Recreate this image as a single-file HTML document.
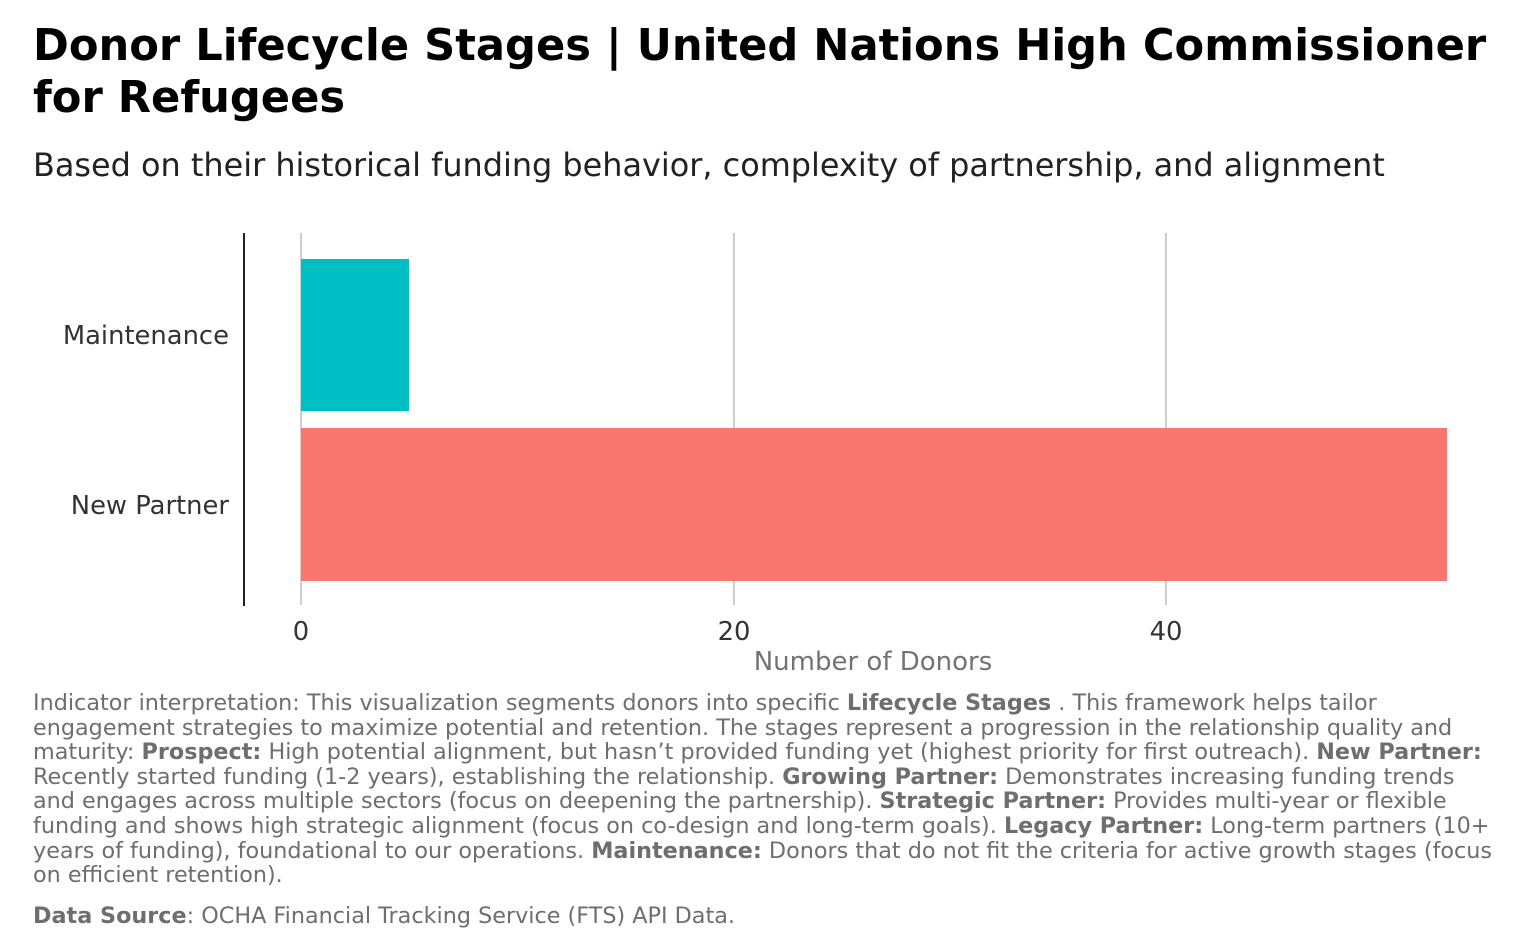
<!DOCTYPE html>
<html><head><meta charset="utf-8"><style>
body{margin:0;width:1536px;height:949px;background:#fff;font-family:"DejaVu Sans","Liberation Sans",sans-serif;position:relative;overflow:hidden}
.a{position:absolute;white-space:nowrap}
.t{left:33px;font-weight:bold;font-size:43.2px;color:#000}
.cap{left:33px;font-size:22.3px;color:#6e6e6e;line-height:24.6px}
.cap b{font-weight:bold}
</style></head><body>
<div class="a t" style="top:21px">Donor Lifecycle Stages | United Nations High Commissioner</div>
<div class="a t" style="top:73px">for Refugees</div>
<div class="a" style="left:33px;top:146px;font-size:31.9px;color:#222">Based on their historical funding behavior, complexity of partnership, and alignment</div>
<svg class="a" style="left:0;top:0" width="1536" height="700">
<line x1="301" y1="233" x2="301" y2="605" stroke="#bdbdbd" stroke-width="1.5"/>
<line x1="734" y1="233" x2="734" y2="605" stroke="#bdbdbd" stroke-width="1.5"/>
<line x1="1166" y1="233" x2="1166" y2="605" stroke="#bdbdbd" stroke-width="1.5"/>
<rect x="301" y="259" width="108" height="152" fill="#00BFC4"/>
<rect x="301" y="428" width="1146" height="153" fill="#F8766D"/>
<line x1="244" y1="233" x2="244" y2="606" stroke="#222" stroke-width="2"/>
<g font-family="DejaVu Sans,Liberation Sans,sans-serif" font-size="25.8" fill="#333">
<text x="229" y="344" text-anchor="end">Maintenance</text>
<text x="229" y="514" text-anchor="end">New Partner</text>
<text x="301" y="640" text-anchor="middle">0</text>
<text x="734" y="640" text-anchor="middle">20</text>
<text x="1166" y="640" text-anchor="middle">40</text>
</g>
<text x="873" y="670" text-anchor="middle" font-family="DejaVu Sans,Liberation Sans,sans-serif" font-size="26" fill="#737373">Number of Donors</text>
</svg>
<div class="a cap" style="top:691px">Indicator interpretation: This visualization segments donors into specific <b>Lifecycle Stages</b> . This framework helps tailor<br>engagement strategies to maximize potential and retention. The stages represent a progression in the relationship quality and<br>maturity: <b>Prospect:</b> High potential alignment, but hasn’t provided funding yet (highest priority for first outreach). <b>New Partner:</b><br>Recently started funding (1-2 years), establishing the relationship. <b>Growing Partner:</b> Demonstrates increasing funding trends<br>and engages across multiple sectors (focus on deepening the partnership). <b>Strategic Partner:</b> Provides multi-year or flexible<br>funding and shows high strategic alignment (focus on co-design and long-term goals). <b>Legacy Partner:</b> Long-term partners (10+<br>years of funding), foundational to our operations. <b>Maintenance:</b> Donors that do not fit the criteria for active growth stages (focus<br>on efficient retention).</div>
<div class="a cap" style="top:904px"><b>Data Source</b>: OCHA Financial Tracking Service (FTS) API Data.</div>
</body></html>
